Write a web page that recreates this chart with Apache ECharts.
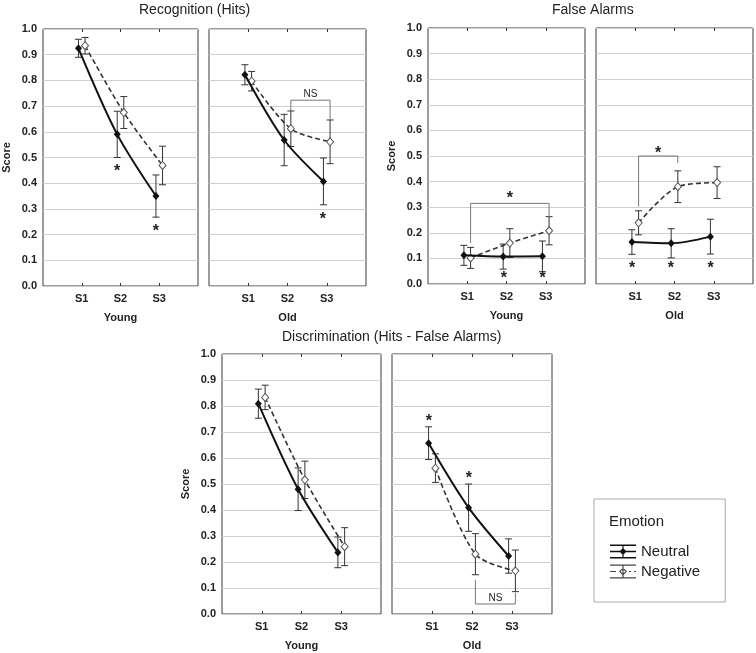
<!DOCTYPE html>
<html>
<head>
<meta charset="utf-8">
<script src="https://cdn.jsdelivr.net/npm/echarts@6/dist/echarts.min.js"></script>
<style>
  html, body { margin: 0; padding: 0; background: #fff; }
  #chart { width: 756px; height: 653px; }
</style>
</head>
<body>
<div id="chart"></div>
<script>
// categories
var categories = ['S1', 'S2', 'S3'];

// Recognition (Hits)
var recYoungNeutral = [0.925, 0.59, 0.35];
var recYoungNeutralErr = [0.035, 0.09, 0.082];
var recYoungNegative = [0.935, 0.675, 0.469];
var recYoungNegativeErr = [0.032, 0.062, 0.075];
var recOldNeutral = [0.822, 0.568, 0.407];
var recOldNeutralErr = [0.039, 0.1, 0.091];
var recOldNegative = [0.797, 0.612, 0.561];
var recOldNegativeErr = [0.038, 0.069, 0.085];

// False Alarms
var faYoungNeutral = [0.112, 0.107, 0.108];
var faYoungNeutralErr = [0.039, 0.049, 0.06];
var faYoungNegative = [0.102, 0.16, 0.208];
var faYoungNegativeErr = [0.041, 0.056, 0.055];
var faOldNeutral = [0.164, 0.159, 0.185];
var faOldNeutralErr = [0.048, 0.057, 0.068];
var faOldNegative = [0.239, 0.38, 0.396];
var faOldNegativeErr = [0.047, 0.062, 0.062];

// Discrimination (Hits - False Alarms)
var discYoungNeutral = [0.809, 0.48, 0.237];
var discYoungNeutralErr = [0.056, 0.082, 0.059];
var discYoungNegative = [0.833, 0.516, 0.259];
var discYoungNegativeErr = [0.047, 0.072, 0.073];
var discOldNeutral = [0.657, 0.409, 0.223];
var discOldNeutralErr = [0.063, 0.091, 0.066];
var discOldNegative = [0.561, 0.23, 0.166];
var discOldNegativeErr = [0.055, 0.079, 0.08];

// significance marks [x, y]
var recYoungStars = [[1.915, 0.457], [2.915, 0.222]];
var recOldStars = [[2.9, 0.27]];
var faYoungStars = [[1.93, 0.032], [2.92, 0.032]];
var faOldStars = [[0.92, 0.073], [1.91, 0.073], [2.92, 0.073]];
var discOldStars = [[0.92, 0.75], [1.92, 0.531]];

// brackets: ends, bar level, label
var recOldBrackets = [{x1: 2.085, y1: 0.681, x2: 3.085, y2: 0.646, bar: 0.723, label: 'NS', labelY: 0.746}];
var faYoungBrackets = [{x1: 1.085, y1: 0.16, x2: 3.085, y2: 0.263, bar: 0.315, label: '*', labelY: 0.345}];
var faOldBrackets = [{x1: 1.085, y1: 0.303, x2: 2.085, y2: 0.473, bar: 0.5, label: '*', labelY: 0.522}];
var discOldBrackets = [{x1: 2.085, y1: 0.13, x2: 3.085, y2: 0.082, bar: 0.0385, label: 'NS', labelY: 0.062}];

var panels = [
  {group: 'Young', neu: recYoungNeutral, neuErr: recYoungNeutralErr, neg: recYoungNegative, negErr: recYoungNegativeErr, stars: recYoungStars, brackets: []},
  {group: 'Old', neu: recOldNeutral, neuErr: recOldNeutralErr, neg: recOldNegative, negErr: recOldNegativeErr, stars: recOldStars, brackets: recOldBrackets},
  {group: 'Young', neu: faYoungNeutral, neuErr: faYoungNeutralErr, neg: faYoungNegative, negErr: faYoungNegativeErr, stars: faYoungStars, brackets: faYoungBrackets},
  {group: 'Old', neu: faOldNeutral, neuErr: faOldNeutralErr, neg: faOldNegative, negErr: faOldNegativeErr, stars: faOldStars, brackets: faOldBrackets},
  {group: 'Young', neu: discYoungNeutral, neuErr: discYoungNeutralErr, neg: discYoungNegative, negErr: discYoungNegativeErr, stars: [], brackets: []},
  {group: 'Old', neu: discOldNeutral, neuErr: discOldNeutralErr, neg: discOldNegative, negErr: discOldNegativeErr, stars: discOldStars, brackets: discOldBrackets}
];

// grid boxes: left, top, width, height
var boxes = [
  [42, 29, 156, 257],
  [209, 29, 157, 257],
  [428, 28, 157, 256],
  [596, 28, 157, 256],
  [222, 354, 159, 260],
  [392, 354, 160, 260]
];

var FONT = '"Liberation Sans", Arial, sans-serif';
var OFF = 0.085;  // dodge between the two emotions
var tickVals = [1, 2, 3];

function errorBar(params, api) {
  var x = api.value(0);
  var lo = api.coord([x, api.value(1)]);
  var hi = api.coord([x, api.value(2)]);
  var w = 3.5;
  var st = {stroke: '#333', lineWidth: 1};
  return {
    type: 'group',
    children: [
      {type: 'line', shape: {x1: lo[0], y1: lo[1], x2: hi[0], y2: hi[1]}, style: st},
      {type: 'line', shape: {x1: lo[0] - w, y1: lo[1], x2: lo[0] + w, y2: lo[1]}, style: st},
      {type: 'line', shape: {x1: hi[0] - w, y1: hi[1], x2: hi[0] + w, y2: hi[1]}, style: st}
    ]
  };
}

function starText(x, y, txt) {
  var isStar = txt === '*';
  return {
    type: 'text',
    style: {
      text: txt, x: x, y: y + (isStar ? 3 : 0),
      align: 'center', verticalAlign: 'middle',
      font: isStar ? 'bold 16px ' + FONT : '10px ' + FONT,
      fill: '#222'
    }
  };
}

var grid = [], xAxis = [], yAxis = [], series = [];

panels.forEach(function (p, i) {
  var b = boxes[i];
  grid.push({left: b[0], top: b[1], width: b[2], height: b[3], show: true, borderColor: '#3a3a3a', borderWidth: 1});

  var young = p.group === 'Young';
  // bottom and top x axes
  xAxis.push({
    gridIndex: i, type: 'value', min: 0, max: 4, interval: 1, position: 'bottom',
    name: p.group, nameLocation: 'middle', nameGap: 26,
    nameTextStyle: {fontWeight: 'bold', fontSize: 11, color: '#222', fontFamily: FONT},
    axisLine: {show: false},
    axisTick: {show: true, inside: true, length: 3, customValues: tickVals, lineStyle: {color: '#333'}},
    axisLabel: {
      customValues: tickVals, margin: 7, fontWeight: 'bold', fontSize: 11, color: '#222', fontFamily: FONT,
      formatter: function (v) { return categories[Math.round(v) - 1] || ''; }
    },
    splitLine: {show: false}
  });
  xAxis.push({
    gridIndex: i, type: 'value', min: 0, max: 4, interval: 1, position: 'top',
    axisLine: {show: false},
    axisTick: {show: true, inside: true, length: 3, customValues: tickVals, lineStyle: {color: '#333'}},
    axisLabel: {show: false},
    splitLine: {show: false}
  });
  yAxis.push({
    gridIndex: i, type: 'value', min: 0, max: 1, interval: 0.1, position: 'left',
    name: young ? 'Score' : '', nameLocation: 'middle', nameGap: 31,
    nameTextStyle: {fontWeight: 'bold', fontSize: 11, color: '#222', fontFamily: FONT},
    axisLine: {show: false},
    axisTick: {show: false},
    axisLabel: {
      show: young, margin: 6, fontWeight: 'bold', fontSize: 11, color: '#222', fontFamily: FONT,
      formatter: function (v) { return v.toFixed(1); }
    },
    splitLine: {show: true, lineStyle: {color: '#cfcfcf', width: 1}}
  });

  var xi = i * 2, yi = i;

  series.push({
    type: 'custom', name: 'Neutral SE', xAxisIndex: xi, yAxisIndex: yi, z: 2,
    renderItem: errorBar, encode: {x: 0, y: [1, 2]},
    data: p.neu.map(function (v, k) { return [k + 1 - OFF, v - p.neuErr[k], v + p.neuErr[k]]; })
  });
  series.push({
    type: 'custom', name: 'Negative SE', xAxisIndex: xi, yAxisIndex: yi, z: 2,
    renderItem: errorBar, encode: {x: 0, y: [1, 2]},
    data: p.neg.map(function (v, k) { return [k + 1 + OFF, v - p.negErr[k], v + p.negErr[k]]; })
  });
  series.push({
    type: 'line', name: 'Negative', xAxisIndex: xi, yAxisIndex: yi, z: 3,
    smooth: 0.3, symbol: 'diamond', symbolSize: [7, 8],
    lineStyle: {color: '#333', width: 1.6, type: [5, 3]},
    itemStyle: {color: '#fff', borderColor: '#555', borderWidth: 1},
    data: p.neg.map(function (v, k) { return [k + 1 + OFF, v]; })
  });
  series.push({
    type: 'line', name: 'Neutral', xAxisIndex: xi, yAxisIndex: yi, z: 4,
    smooth: 0.3, symbol: 'diamond', symbolSize: [7, 8],
    lineStyle: {color: '#111', width: 2},
    itemStyle: {color: '#111', borderColor: '#111', borderWidth: 0},
    data: p.neu.map(function (v, k) { return [k + 1 - OFF, v]; })
  });
  if (p.stars.length) {
    series.push({
      type: 'custom', name: 'sig', xAxisIndex: xi, yAxisIndex: yi, z: 5,
      encode: {x: 0, y: 1},
      data: p.stars,
      renderItem: function (params, api) {
        var c = api.coord([api.value(0), api.value(1)]);
        return starText(c[0], c[1], '*');
      }
    });
  }
  if (p.brackets.length) {
    series.push({
      type: 'custom', name: 'bracket', xAxisIndex: xi, yAxisIndex: yi, z: 5,
      encode: {x: 0, y: 1},
      data: p.brackets.map(function (br) { return [br.x1, br.bar]; }),
      renderItem: function (params, api) {
        var br = p.brackets[params.dataIndex];
        var a = api.coord([br.x1, br.y1]);
        var b1 = api.coord([br.x1, br.bar]);
        var b2 = api.coord([br.x2, br.bar]);
        var c = api.coord([br.x2, br.y2]);
        var l = api.coord([(br.x1 + br.x2) / 2, br.labelY]);
        return {
          type: 'group',
          children: [
            {type: 'polyline', shape: {points: [a, b1, b2, c]}, style: {stroke: '#777', lineWidth: 1, fill: null}},
            starText(l[0], l[1], br.label)
          ]
        };
      }
    });
  }
});

var neutralIcon = 'path://M0,0H26V1.4H0Z M0,6.3H26V7.7H0Z M0,12.6H26V14H0Z M12.4,0H13.6V14H12.4Z M13,3.4L16.6,7L13,10.6L9.4,7Z';
var negativeIcon = 'path://M0,0H26V1.2H0Z M0,12.8H26V14H0Z M12.4,0H13.6V14H12.4Z M0,6.4H6V7.6H0Z M19,6.4H21V7.6H19Z M24,6.4H26V7.6H24Z M13,3L17,7L13,11L9,7Z M13,4.6L10.6,7L13,9.4L15.4,7Z';

var chart = echarts.init(document.getElementById('chart'));
chart.setOption({
  animation: false,
  backgroundColor: '#fff',
  textStyle: {fontFamily: FONT},
  title: [
    {text: 'Recognition (Hits)', left: 139, top: 3, padding: 0, textStyle: {fontSize: 14, fontWeight: 'normal', color: '#222', fontFamily: FONT}},
    {text: 'False Alarms', left: 552, top: 3, padding: 0, textStyle: {fontSize: 14, fontWeight: 'normal', color: '#222', fontFamily: FONT}},
    {text: 'Discrimination (Hits - False Alarms)', left: 282, top: 330, padding: 0, textStyle: {fontSize: 14, fontWeight: 'normal', color: '#222', fontFamily: FONT}},
    {text: 'Emotion', left: 609, top: 514, padding: 0, textStyle: {fontSize: 15, fontWeight: 'normal', color: '#222', fontFamily: FONT}}
  ],
  legend: {
    left: 594, top: 499, orient: 'vertical',
    itemWidth: 26, itemHeight: 14, itemGap: 5,
    padding: [45, 25, 23, 16],
    borderColor: '#aaa', borderWidth: 1,
    selectedMode: false,
    textStyle: {fontSize: 15, color: '#222', fontFamily: FONT},
    data: [
      {name: 'Neutral', icon: neutralIcon, itemStyle: {color: '#111', borderWidth: 0}},
      {name: 'Negative', icon: negativeIcon, itemStyle: {color: '#444', borderWidth: 0}}
    ]
  },
  grid: grid,
  xAxis: xAxis,
  yAxis: yAxis,
  series: series
});
</script>
</body>
</html>
